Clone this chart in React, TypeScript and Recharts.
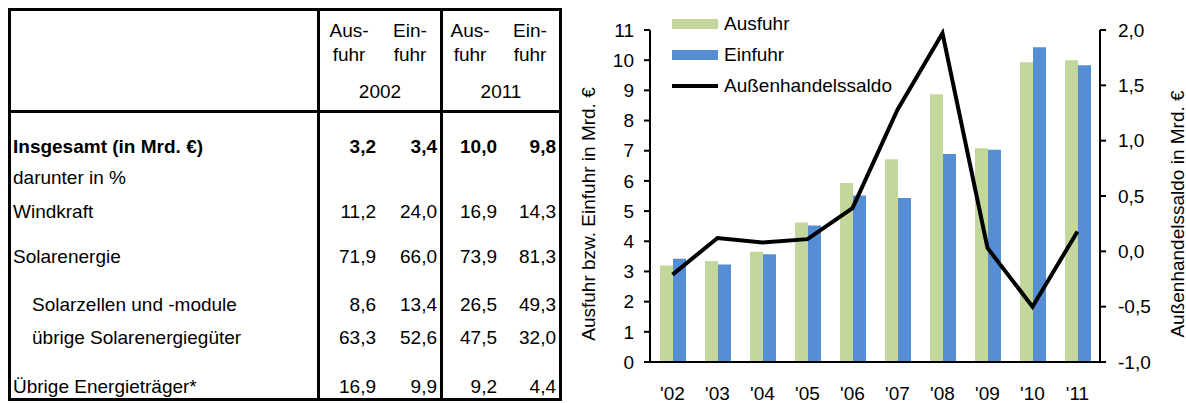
import { ComposedChart, Bar, Line, XAxis, YAxis } from 'recharts';

const FONT = '"Liberation Sans", Arial, sans-serif';

// chart data
const years = ["'02", "'03", "'04", "'05", "'06", "'07", "'08", "'09", "'10", "'11"];
const ausfuhr = [3.2, 3.35, 3.65, 4.62, 5.93, 6.72, 8.87, 7.08, 9.93, 10.0];
const einfuhr = [3.42, 3.23, 3.57, 4.52, 5.52, 5.43, 6.89, 7.03, 10.43, 9.83];
const saldo = [-0.21, 0.12, 0.08, 0.11, 0.39, 1.28, 1.97, 0.03, -0.5, 0.18];

const leftTicks = [0, 1, 2, 3, 4, 5, 6, 7, 8, 9, 10, 11];
const rightTicks = [-1, -0.5, 0, 0.5, 1, 1.5, 2];

// table data
const rowLabels = [
  'Insgesamt (in Mrd. €)',
  'darunter in %',
  'Windkraft',
  'Solarenergie',
  'Solarzellen und -module',
  'übrige Solarenergiegüter',
  'Übrige Energieträger*',
];
const ausfuhr2002 = [3.2, null, 11.2, 71.9, 8.6, 63.3, 16.9];
const einfuhr2002 = [3.4, null, 24.0, 66.0, 13.4, 52.6, 9.9];
const ausfuhr2011 = [10.0, null, 16.9, 73.9, 26.5, 47.5, 9.2];
const einfuhr2011 = [9.8, null, 14.3, 81.3, 49.3, 32.0, 4.4];
const headerYears = ['2002', '2011'];

// layout of the table (page pixels)
const rowCenterY = [147, 178, 212, 257, 305, 338, 387];
const indentedRows = [4, 5];
const valueRightX = [376, 437, 497, 556];
const subColCenterX = [349, 410, 470, 530];

const chartData = years.map((year, i) => ({
  year,
  ausfuhr: ausfuhr[i],
  einfuhr: einfuhr[i],
  saldo: saldo[i],
}));

const legendItems = [
  { name: 'Ausfuhr', color: '#C3D69B', kind: 'bar' },
  { name: 'Einfuhr', color: '#558ED5', kind: 'bar' },
  { name: 'Außenhandelssaldo', color: '#000000', kind: 'line' },
];

const fmt = (v: number) => v.toFixed(1).replace('.', ',');

function Txt({ x, y, children, align = 'left', bold = false }: any) {
  const style: any = {
    position: 'absolute',
    top: y - 10,
    lineHeight: '20px',
    fontSize: 19,
    fontWeight: bold ? 'bold' : 'normal',
    whiteSpace: 'nowrap',
  };
  if (align === 'left') style.left = x;
  if (align === 'right') { style.right = 1186 - x; }
  if (align === 'center') { style.left = x - 60; style.width = 120; style.textAlign = 'center'; }
  return <div style={style}>{children}</div>;
}

function Table() {
  const cols = [ausfuhr2002, einfuhr2002, ausfuhr2011, einfuhr2011];
  return (
    <>
      <div style={{ position: 'absolute', left: 8, top: 8, width: 554, height: 393, border: '3px solid #000', boxSizing: 'border-box' }} />
      <div style={{ position: 'absolute', left: 8, top: 110, width: 554, height: 3, background: '#000' }} />
      <div style={{ position: 'absolute', left: 317, top: 8, width: 3, height: 393, background: '#000' }} />
      <div style={{ position: 'absolute', left: 440, top: 8, width: 3, height: 393, background: '#000' }} />
      {subColCenterX.map((cx, i) => (
        <div key={'h' + i}>
          <Txt x={cx} y={31} align="center">{i % 2 === 0 ? 'Aus-' : 'Ein-'}</Txt>
          <Txt x={cx} y={55} align="center">fuhr</Txt>
        </div>
      ))}
      <Txt x={380} y={92} align="center">{headerYears[0]}</Txt>
      <Txt x={501} y={92} align="center">{headerYears[1]}</Txt>
      {rowLabels.map((label, r) => (
        <div key={'r' + r}>
          <Txt x={indentedRows.includes(r) ? 32 : 13} y={rowCenterY[r]} bold={r === 0}>{label}</Txt>
          {cols.map((col, c) =>
            col[r] === null ? null : (
              <Txt key={c} x={valueRightX[c]} y={rowCenterY[r]} align="right" bold={r === 0}>
                {fmt(col[r] as number)}
              </Txt>
            )
          )}
        </div>
      ))}
    </>
  );
}

function Legend() {
  const centers = [24, 55, 86];
  return (
    <>
      {legendItems.map((item, i) => (
        <div key={item.name}>
          <div
            style={{
              position: 'absolute',
              left: 672,
              width: 46,
              top: item.kind === 'bar' ? centers[i] - 5 : centers[i] - 2,
              height: item.kind === 'bar' ? 10 : 4,
              background: item.color,
            }}
          />
          <Txt x={724} y={centers[i]}>{item.name}</Txt>
        </div>
      ))}
    </>
  );
}

const leftLabel = ({ viewBox }: any) => {
  const x = viewBox.x + 28;
  const y = viewBox.y + viewBox.height / 2 + 18;
  return (
    <text x={x} y={y} transform={`rotate(-90 ${x} ${y})`} textAnchor="middle" dominantBaseline="central" fontSize={19} fill="#000">
      Ausfuhr bzw. Einfuhr in Mrd. €
    </text>
  );
};

const rightLabel = ({ viewBox }: any) => {
  const x = viewBox.x + 77;
  const y = viewBox.y + viewBox.height / 2 + 18;
  return (
    <text x={x} y={y} transform={`rotate(-90 ${x} ${y})`} textAnchor="middle" dominantBaseline="central" fontSize={19} fill="#000">
      Außenhandelssaldo in Mrd. €
    </text>
  );
};

export default function App() {
  return (
    <div style={{ position: 'absolute', left: 0, top: 0, width: 1186, height: 403, background: '#fff', fontFamily: FONT, color: '#000', overflow: 'hidden' }}>
      <Table />
      <div style={{ position: 'absolute', left: 560, top: 0 }}>
        <ComposedChart width={626} height={403} data={chartData} margin={{ top: 30, right: 0, bottom: 0, left: 0 }} barGap={0}>
          <XAxis
            dataKey="year"
            height={41}
            interval={0}
            tickLine={false}
            tickSize={0}
            tickMargin={25}
            axisLine={{ stroke: '#000', strokeWidth: 2 }}
            tick={{ fill: '#000', fontSize: 19 }}
          />
          <YAxis
            yAxisId="left"
            orientation="left"
            width={90}
            domain={[0, 11]}
            ticks={leftTicks}
            interval={0}
            tickSize={6}
            tickMargin={10}
            axisLine={{ stroke: '#000', strokeWidth: 2 }}
            tickLine={{ stroke: '#000', strokeWidth: 2 }}
            tick={{ fill: '#000', fontSize: 19 }}
            label={leftLabel}
          />
          <YAxis
            yAxisId="right"
            orientation="right"
            width={86}
            domain={[-1, 2]}
            ticks={rightTicks}
            interval={0}
            tickSize={6}
            tickMargin={12}
            tickFormatter={fmt}
            axisLine={{ stroke: '#000', strokeWidth: 2 }}
            tickLine={{ stroke: '#000', strokeWidth: 2 }}
            tick={{ fill: '#000', fontSize: 19 }}
            label={rightLabel}
          />
          <Bar yAxisId="left" dataKey="ausfuhr" fill="#C3D69B" barSize={13} isAnimationActive={false} />
          <Bar yAxisId="left" dataKey="einfuhr" fill="#558ED5" barSize={13} isAnimationActive={false} />
          <Line yAxisId="right" dataKey="saldo" type="linear" stroke="#000" strokeWidth={4} dot={false} activeDot={false} isAnimationActive={false} />
        </ComposedChart>
      </div>
      <Legend />
    </div>
  );
}
